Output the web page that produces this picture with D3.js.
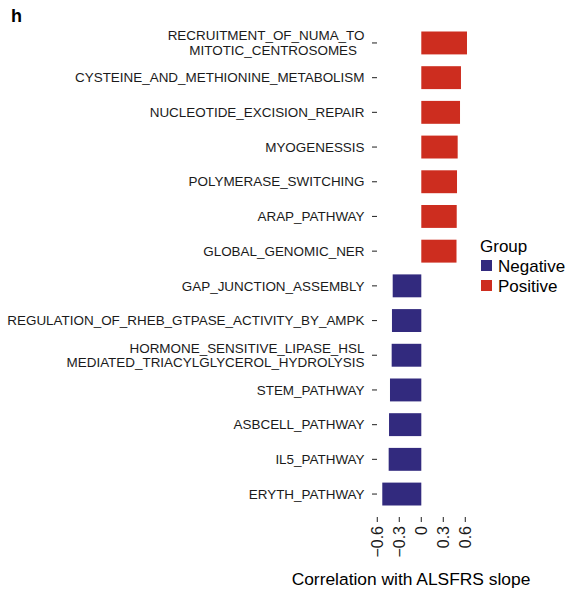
<!DOCTYPE html>
<html>
<head>
<meta charset="utf-8">
<script src="https://cdn.jsdelivr.net/npm/d3@7"></script>
<style>
  html, body { margin: 0; padding: 0; background: #fff; }
  svg { display: block; font-family: "Liberation Sans", Arial, Helvetica, sans-serif; }
  text { white-space: pre; }
</style>
</head>
<body>
<svg id="chart" width="569" height="590"></svg>
<script>
// Pathways, top to bottom
const pathways = [
  "RECRUITMENT_OF_NUMA_TO\nMITOTIC_CENTROSOMES  ",
  "CYSTEINE_AND_METHIONINE_METABOLISM",
  "NUCLEOTIDE_EXCISION_REPAIR",
  "MYOGENESSIS",
  "POLYMERASE_SWITCHING",
  "ARAP_PATHWAY",
  "GLOBAL_GENOMIC_NER",
  "GAP_JUNCTION_ASSEMBLY",
  "REGULATION_OF_RHEB_GTPASE_ACTIVITY_BY_AMPK",
  "HORMONE_SENSITIVE_LIPASE_HSL\nMEDIATED_TRIACYLGLYCEROL_HYDROLYSIS",
  "STEM_PATHWAY",
  "ASBCELL_PATHWAY",
  "IL5_PATHWAY",
  "ERYTH_PATHWAY"
];
// Correlation of each pathway score with ALSFRS slope
const correlations = [0.623, 0.541, 0.528, 0.496, 0.487, 0.483, 0.480,
                      -0.390, -0.400, -0.404, -0.427, -0.440, -0.445, -0.532];
const xTicks = [-0.6, -0.3, 0, 0.3, 0.6];
const groups = ["Negative", "Positive"];
const groupColors = ["#322a7e", "#cd2d1f"];

const rows = pathways.map((p, i) => ({
  pathway: p,
  value: correlations[i],
  group: correlations[i] < 0 ? "Negative" : "Positive"
}));

const svg = d3.select("#chart");
const color = d3.scaleOrdinal().domain(groups).range(groupColors);

const x = d3.scaleLinear().domain([-0.6, 0.6]).range([377.3, 465.3]);
const y = d3.scaleBand()
  .domain(pathways)
  .range([25.6, 511.4])
  .paddingInner(0.34)
  .paddingOuter(0.17);

// bars
svg.append("g").selectAll("rect")
  .data(rows)
  .join("rect")
  .attr("x", d => x(Math.min(0, d.value)))
  .attr("width", d => Math.abs(x(d.value) - x(0)))
  .attr("y", d => y(d.pathway))
  .attr("height", y.bandwidth())
  .attr("fill", d => color(d.group));

// y axis: tick marks and labels
const yAxis = svg.append("g");
yAxis.selectAll("line")
  .data(pathways)
  .join("line")
  .attr("x1", 372).attr("x2", 377)
  .attr("y1", d => y(d) + y.bandwidth() / 2)
  .attr("y2", d => y(d) + y.bandwidth() / 2)
  .attr("stroke", "#333").attr("stroke-width", 1.1);

yAxis.selectAll("text")
  .data(pathways)
  .join("text")
  .attr("text-anchor", "end")
  .attr("font-size", 13.45)
  .attr("fill", "#1a1a1a")
  .each(function (d) {
    const lines = d.split("\n");
    const cy = y(d) + y.bandwidth() / 2;
    const lh = 14.5;
    const t = d3.select(this);
    lines.forEach((ln, k) => {
      t.append("tspan")
        .attr("x", 364.5)
        .attr("y", cy + (k - (lines.length - 1) / 2) * lh)
        .attr("dy", "0.35em")
        .text(ln);
    });
  });

// x axis
const xAxis = svg.append("g");
xAxis.selectAll("line")
  .data(xTicks)
  .join("line")
  .attr("x1", d => x(d)).attr("x2", d => x(d))
  .attr("y1", 517).attr("y2", 522)
  .attr("stroke", "#333").attr("stroke-width", 1.1);

const fmt = d => d === 0 ? "0" : (d < 0 ? "\u2212" : "") + d3.format(".1f")(Math.abs(d));
xAxis.selectAll("text")
  .data(xTicks)
  .join("text")
  .attr("transform", d => `translate(${x(d)},526) rotate(-90)`)
  .attr("text-anchor", "end")
  .attr("dy", "0.35em")
  .attr("font-size", 16)
  .attr("fill", "#1a1a1a")
  .text(fmt);

svg.append("text")
  .attr("x", 411).attr("y", 585)
  .attr("text-anchor", "middle")
  .attr("font-size", 17.4)
  .attr("fill", "#000")
  .text("Correlation with ALSFRS slope");

// legend
const legend = svg.append("g").attr("transform", "translate(480,0)");
legend.append("text")
  .attr("x", 0).attr("y", 252)
  .attr("font-size", 17)
  .text("Group");
const li = legend.selectAll("g.item")
  .data(groups)
  .join("g")
  .attr("class", "item")
  .attr("transform", (d, i) => `translate(0,${260 + i * 20})`);
li.append("rect")
  .attr("x", 1).attr("y", 0)
  .attr("width", 11).attr("height", 11)
  .attr("fill", d => color(d));
li.append("text")
  .attr("x", 18).attr("y", 11.5)
  .attr("font-size", 17)
  .text(d => d);

// panel letter
svg.append("text")
  .attr("x", 11).attr("y", 22)
  .attr("font-size", 18)
  .attr("font-weight", "bold")
  .text("h");
</script>
</body>
</html>
